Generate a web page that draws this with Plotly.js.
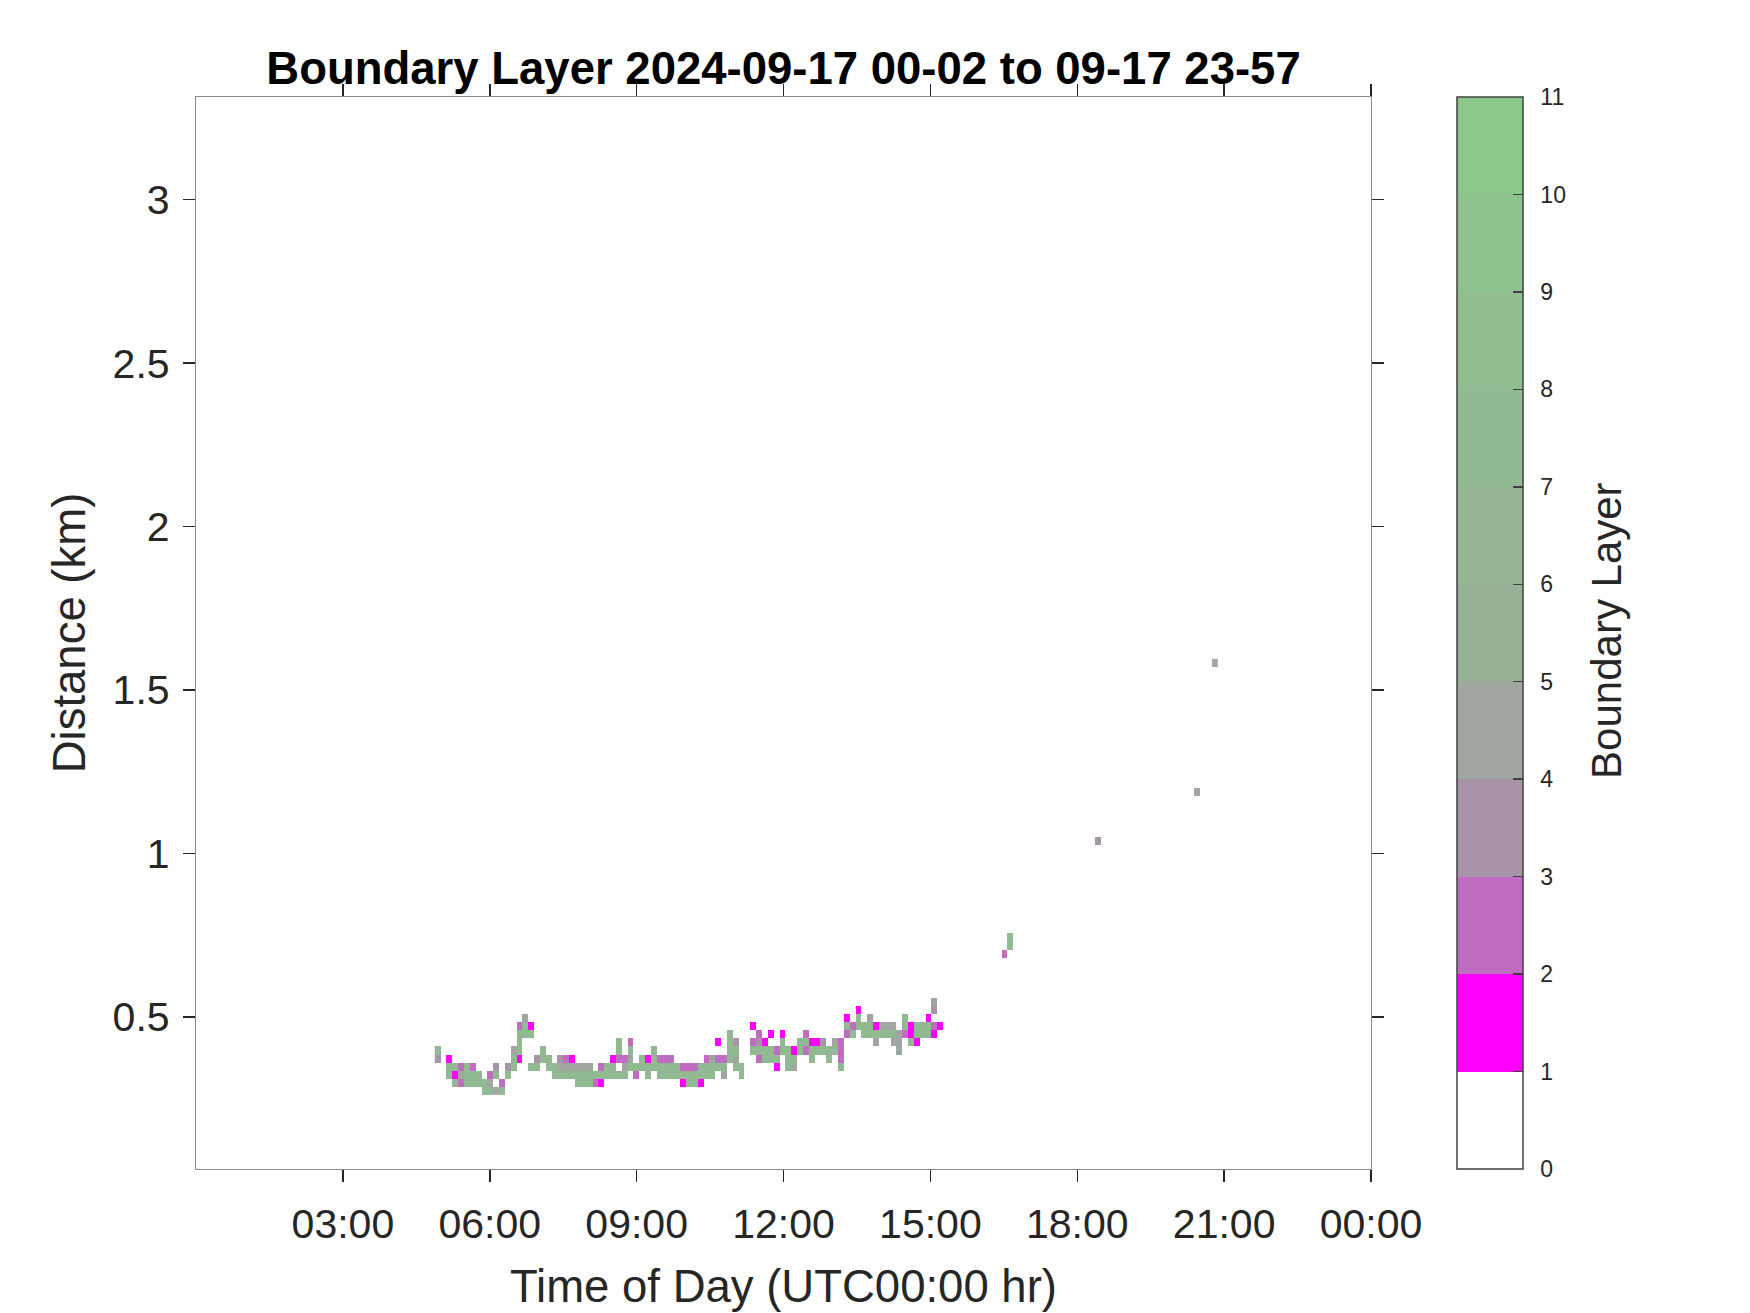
<!DOCTYPE html>
<html>
<head>
<meta charset="utf-8">
<script src="https://cdn.plot.ly/plotly-3.0.1.min.js"></script>
<style>html,body{margin:0;padding:0;background:#fff;}#chart{width:1750px;height:1313px;}</style>
</head>
<body>
<div id="chart"></div>
<script>
// ---- Data ----
// Profile times (hours UTC) that have a detected boundary layer
const profileTime = [
  4.937, 5.175, 5.295, 5.414, 5.533, 5.653, 5.772, 5.891, 6.010, 6.130,
  6.249, 6.368, 6.488, 6.607, 6.726, 6.845, 6.965, 7.084, 7.203, 7.323,
  7.442, 7.561, 7.681, 7.800, 7.919, 8.038, 8.158, 8.277, 8.396, 8.516,
  8.635, 8.754, 8.874, 8.993, 9.112, 9.231, 9.351, 9.470, 9.589, 9.709,
  9.828, 9.947, 10.067, 10.186, 10.305, 10.424, 10.544, 10.663, 10.782, 10.902,
  11.021, 11.140, 11.379, 11.498, 11.617, 11.737, 11.856, 11.975, 12.095, 12.214,
  12.333, 12.453, 12.572, 12.691, 12.810, 12.930, 13.049, 13.168, 13.288, 13.407,
  13.526, 13.646, 13.765, 13.884, 14.003, 14.123, 14.242, 14.361, 14.481, 14.600,
  14.719, 14.839, 14.958, 15.077, 15.196, 16.509, 16.628, 18.418, 20.446, 20.804
];
// Heights (km) of the flagged range gates for each profile
const layerHeights = [
  [0.397,0.373],[0.373,0.348,0.323],[0.348,0.323,0.299],[0.348,0.323,0.299],[0.348,0.323,0.299],
  [0.348,0.323,0.299],[0.323,0.299],[0.299,0.274],[0.323,0.299,0.274],[0.348,0.323,0.274],
  [0.299,0.274],[0.348,0.323],[0.397,0.373,0.348],[0.472,0.447,0.422,0.397,0.373],[0.496,0.472,0.447],
  [0.472,0.447,0.348],[0.373,0.348],[0.397,0.373],[0.373,0.348],[0.348,0.323],
  [0.373,0.348,0.323],[0.373,0.348,0.323],[0.373,0.348,0.323],[0.348,0.323,0.299],[0.348,0.323,0.299],
  [0.348,0.323,0.299],[0.323,0.299],[0.348,0.323,0.299],[0.348,0.323],[0.373,0.348,0.323],
  [0.422,0.397,0.373,0.323],[0.373,0.348,0.323],[0.422,0.397,0.373,0.348],[0.348,0.323],[0.373,0.348],
  [0.373,0.348,0.323],[0.397,0.373,0.348],[0.373,0.348,0.323],[0.373,0.348,0.323],[0.373,0.348,0.323],
  [0.348,0.323],[0.348,0.323,0.299],[0.348,0.323,0.299],[0.348,0.323,0.299],[0.348,0.323,0.299],
  [0.373,0.348,0.323],[0.373,0.348,0.323],[0.422,0.373,0.348],[0.373,0.348,0.323],[0.447,0.422,0.397,0.373],
  [0.422,0.397,0.373,0.348],[0.348,0.323],[0.472,0.422,0.397],[0.447,0.422,0.397,0.373],[0.422,0.397,0.373],
  [0.447,0.397,0.373],[0.397,0.373,0.348],[0.447,0.422,0.397],[0.397,0.373,0.348],[0.397,0.373,0.348],
  [0.422,0.397],[0.447,0.422,0.397],[0.422,0.397,0.373],[0.422,0.397],[0.422,0.397],
  [0.397,0.373],[0.422,0.397],[0.422,0.397,0.373,0.348],[0.496,0.472,0.447],[0.472,0.447],
  [0.521,0.496,0.472],[0.472,0.447],[0.496,0.472,0.447],[0.472,0.447,0.422],[0.472,0.447],
  [0.472,0.447],[0.472,0.447,0.422],[0.447,0.422,0.397],[0.496,0.472,0.447],[0.472,0.447,0.422],
  [0.472,0.447,0.422],[0.472,0.447],[0.496,0.472,0.447],[0.546,0.521,0.472,0.447],[0.472],
  [0.694],[0.743,0.718],[1.040],[1.188],[1.583]
];
// Boundary layer class of each flagged gate (colour bar value)
const layerClass = [
  [7.5,3.5],[1.5,7.5,7.5],[7.5,1.5,7.5],[2.5,4.5,2.5],[7.5,7.5,7.5],
  [2.5,7.5,7.5],[7.5,7.5],[7.5,7.5],[2.5,4.5,7.5],[3.5,7.5,4.5],
  [2.5,7.5],[3.5,7.5],[4.5,7.5,7.5],[2.5,7.5,7.5,7.5,1.5],[4.5,7.5,7.5],
  [1.5,7.5,7.5],[3.5,7.5],[7.5,7.5],[7.5,7.5],[7.5,7.5],
  [3.5,4.5,7.5],[2.5,4.5,7.5],[1.5,4.5,7.5],[4.5,7.5,7.5],[4.5,7.5,7.5],
  [4.5,7.5,7.5],[7.5,2.5],[2.5,7.5,1.5],[7.5,7.5],[1.5,7.5,7.5],
  [7.5,7.5,2.5,7.5],[2.5,4.5,7.5],[2.5,7.5,4.5,7.5],[7.5,2.5],[7.5,7.5],
  [1.5,7.5,7.5],[7.5,7.5,7.5],[2.5,7.5,7.5],[2.5,7.5,7.5],[2.5,7.5,7.5],
  [7.5,7.5],[2.5,7.5,1.5],[2.5,7.5,7.5],[2.5,7.5,7.5],[7.5,7.5,1.5],
  [2.5,7.5,7.5],[4.5,7.5,7.5],[1.5,2.5,7.5],[2.5,7.5,4.5],[7.5,7.5,7.5,7.5],
  [3.5,7.5,4.5,7.5],[7.5,7.5],[1.5,2.5,7.5],[2.5,3.5,7.5,2.5],[1.5,7.5,7.5],
  [1.5,7.5,7.5],[2.5,7.5,1.5],[1.5,7.5,7.5],[7.5,7.5,7.5],[1.5,7.5,4.5],
  [7.5,7.5],[2.5,7.5,2.5],[1.5,7.5,7.5],[1.5,7.5],[3.5,7.5],
  [7.5,7.5],[4.5,7.5],[2.5,2.5,2.5,7.5],[1.5,7.5,2.5],[2.5,7.5],
  [1.5,7.5,7.5],[7.5,7.5],[4.5,7.5,7.5],[1.5,7.5,4.5],[4.5,7.5],
  [4.5,7.5],[4.5,7.5,4.5],[4.5,4.5,4.5],[7.5,7.5,2.5],[1.5,1.5,7.5],
  [7.5,7.5,1.5],[7.5,7.5],[1.5,7.5,7.5],[4.5,3.5,2.5,1.5],[1.5],
  [2.5],[7.5,7.5],[3.5],[4.5],[4.5]
];
// Sampling of the measurement grid
const profileStep = 0.1193;   // hours between profiles
const gateStep = 0.0247;      // km between range gates
// Axis ticks
const xTickVals = [3, 6, 9, 12, 15, 18, 21, 24];
const xTickText = ['03:00','06:00','09:00','12:00','15:00','18:00','21:00','00:00'];
const yTickVals = [0.5, 1, 1.5, 2, 2.5, 3];
const yTickText = ['0.5','1','1.5','2','2.5','3'];
const cbTickVals = [0,1,2,3,4,5,6,7,8,9,10,11];
const cbTickText = ['0','1','2','3','4','5','6','7','8','9','10','11'];
// Colour of each unit band of the colour bar (0-1, 1-2, ..., 10-11)
const bandColors = ['#FFFFFF','#FF00FF','#C06CC0','#A894A8','#A0A6A0','#98B098',
                    '#94B694','#92BA92','#90BE90','#8EC28E','#8BC68B'];

// ---- Build the gridded matrix ----
const t0 = Math.min(...profileTime);
const h0 = Math.min(...layerHeights.flat());
const nx = Math.round((Math.max(...profileTime) - t0) / profileStep) + 1;
const ny = Math.round((Math.max(...layerHeights.flat()) - h0) / gateStep) + 1;
const z = [];
for (let j = 0; j < ny; j++) { z.push(new Array(nx).fill(null)); }
profileTime.forEach((t, i) => {
  const ix = Math.round((t - t0) / profileStep);
  layerHeights[i].forEach((h, k) => {
    const iy = Math.round((h - h0) / gateStep);
    z[iy][ix] = layerClass[i][k];
  });
});

const cs = [];
bandColors.forEach((c, i) => { cs.push([i / 11, c]); cs.push([(i + 1) / 11, c]); });

const FONT = 'Liberation Sans, Arial, Helvetica, sans-serif';

const trace = {
  type: 'heatmap',
  z: z,
  x0: t0, dx: profileStep,
  y0: h0, dy: gateStep,
  zmin: 0, zmax: 11,
  colorscale: cs,
  zsmooth: false,
  hoverongaps: false,
  colorbar: {
    x: 1.0732, xanchor: 'left', xref: 'paper',
    y: 0.5, yanchor: 'middle', len: 1, lenmode: 'fraction',
    thickness: 66, thicknessmode: 'pixels',
    xpad: 0, ypad: 0,
    outlinewidth: 1.5, outlinecolor: '#404040',
    ticks: 'inside', ticklen: 10, tickwidth: 1.5, tickcolor: '#404040',
    tickmode: 'array', tickvals: cbTickVals,
    ticktext: cbTickText.map(s => '\u2002' + s),
    tickfont: {family: FONT, size: 23, color: '#262626'},
    title: {text: ''}
  }
};

const layout = {
  width: 1750, height: 1313,
  margin: {l: 196, r: 379, t: 97, b: 144, pad: 0},
  paper_bgcolor: '#ffffff', plot_bgcolor: '#ffffff',
  showlegend: false,
  title: {
    text: '<b>Boundary Layer 2024-09-17 00-02 to 09-17 23-57</b>',
    font: {family: FONT, size: 45.5, color: '#000000'},
    x: 0.5, xref: 'paper', xanchor: 'center',
    y: 1 - 68 / 1313, yref: 'container', yanchor: 'middle'
  },
  xaxis: {
    range: [0, 24], autorange: false,
    tickmode: 'array', tickvals: xTickVals, ticktext: xTickText,
    ticks: 'outside', ticklen: 12, tickwidth: 1.5, tickcolor: '#262626',
    showline: true, linecolor: '#8a8a8a', linewidth: 1.2, mirror: 'ticks',
    showgrid: false, zeroline: false,
    tickfont: {family: FONT, size: 41, color: '#262626'},
    ticklabelstandoff: 7,
    title: {text: 'Time of Day (UTC00:00 hr)', font: {family: FONT, size: 45.5, color: '#262626'}, standoff: 23}
  },
  yaxis: {
    range: [0.0355, 3.314], autorange: false,
    tickmode: 'array', tickvals: yTickVals, ticktext: yTickText,
    ticks: 'outside', ticklen: 12, tickwidth: 1.5, tickcolor: '#262626',
    showline: true, linecolor: '#8a8a8a', linewidth: 1.2, mirror: 'ticks',
    showgrid: false, zeroline: false,
    tickfont: {family: FONT, size: 41, color: '#262626'},
    ticklabelstandoff: 5,
    title: {text: 'Distance (km)', font: {family: FONT, size: 45.5, color: '#262626'}, standoff: 12}
  },
  annotations: [{
    text: 'Boundary Layer', textangle: -90,
    xref: 'paper', yref: 'paper', x: 1.2009, y: 0.502,
    xanchor: 'center', yanchor: 'middle', showarrow: false,
    font: {family: FONT, size: 42, color: '#262626'}
  }]
};

Plotly.newPlot('chart', [trace], layout, {displayModeBar: false, staticPlot: true});
</script>
</body>
</html>
